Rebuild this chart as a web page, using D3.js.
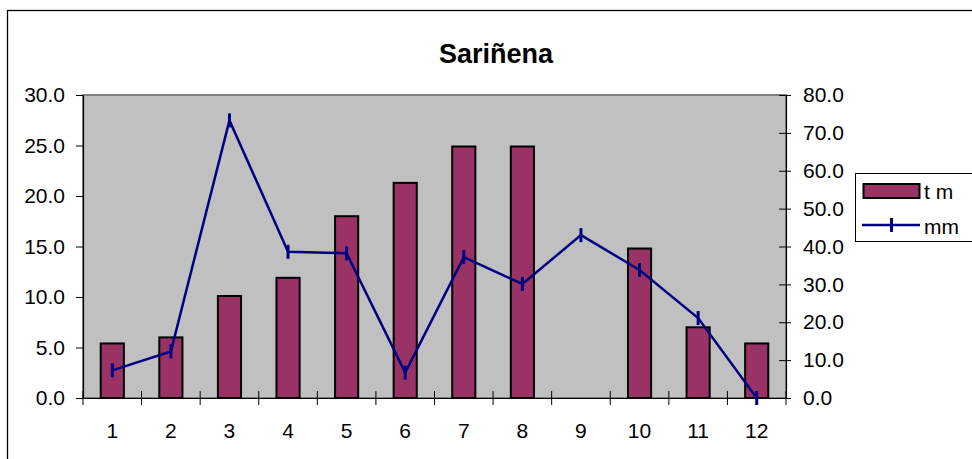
<!DOCTYPE html>
<html><head><meta charset="utf-8">
<script src="https://cdn.jsdelivr.net/npm/d3@7"></script>
<style>html,body{margin:0;padding:0;background:#fff;}svg{display:block;font-family:"Liberation Sans",Arial,sans-serif;}</style>
</head><body>
<svg id="c" width="972" height="459"></svg>
<script>
const months = ["1","2","3","4","5","6","7","8","9","10","11","12"];
const tm = [5.4, 6.0, 10.1, 11.9, 18.0, 21.3, 24.9, 24.9, null, 14.8, 7.0, 5.4];
const mm = [7.3, 12.3, 73.3, 38.6, 38.2, 6.7, 37.2, 30.1, 43.0, 33.8, 21.1, 0.0];
const leftTicks = [0, 5, 10, 15, 20, 25, 30];
const rightTicks = [0, 10, 20, 30, 40, 50, 60, 70, 80];
const title = "Sariñena";
const legendLabels = ["t m", "mm"];

const svg = d3.select("#c");
const L = 83, R = 786, T = 95, B = 398;
const barColor = "#993366", lineColor = "#000080";

// outer chart border
svg.append("rect").attr("x", 7.5).attr("y", 10.5).attr("width", 975).attr("height", 460)
  .attr("fill", "#fff").attr("stroke", "#000").attr("stroke-width", 1.3);

svg.append("text").attr("x", 496).attr("y", 63).attr("text-anchor", "middle")
  .attr("font-size", 27).attr("font-weight", "bold").text(title);

const x = d3.scaleBand().domain(months).range([L, R]).padding(0);
const yL = d3.scaleLinear().domain([0, 30]).range([B, T]);
const yR = d3.scaleLinear().domain([0, 80]).range([B, T]);

// plot area
svg.append("rect").attr("x", L).attr("y", T).attr("width", R - L).attr("height", B - T)
  .attr("fill", "#c0c0c0").attr("stroke", "#808080").attr("stroke-width", 2);

// bars
const bw = x.bandwidth() * 0.395;
svg.append("g").selectAll("rect").data(months.map((m, i) => ({m, v: tm[i]})).filter(d => d.v != null))
  .join("rect")
  .attr("x", d => x(d.m) + x.bandwidth() / 2 - bw / 2)
  .attr("y", d => yL(d.v))
  .attr("width", bw)
  .attr("height", d => yL(0) - yL(d.v))
  .attr("fill", barColor).attr("stroke", "#000").attr("stroke-width", 2);

// axes
const axL = svg.append("g").attr("transform", `translate(${L},0)`)
  .call(d3.axisLeft(yL).tickValues(leftTicks).tickSize(7).tickSizeOuter(0).tickFormat(d3.format(".1f")));
const axR = svg.append("g").attr("transform", `translate(${R},0)`)
  .call(d3.axisRight(yR).tickValues(rightTicks).tickSize(6).tickSizeOuter(0).tickFormat(d3.format(".1f")));
axR.selectAll(".tick line").attr("x1", -7).attr("x2", 5);
axR.selectAll(".tick text").attr("x", 17);
axL.selectAll(".tick text").attr("x", -18);

const xTickPos = months.map(m => x(m)).concat([R]);
const axB = svg.append("g").attr("transform", `translate(0,${B})`)
  .call(d3.axisBottom(x).tickSize(0).tickSizeOuter(0));
axB.selectAll(".tick text").attr("y", 40).attr("dy", 0);
axB.selectAll("line.xt").data(xTickPos).join("line").attr("class", "xt")
  .attr("x1", d => d).attr("x2", d => d).attr("y1", -7).attr("y2", 7)
  .attr("stroke", "#000").attr("stroke-width", 1);

[axL, axR, axB].forEach(a => {
  a.selectAll(".domain").attr("stroke", "#000").attr("stroke-width", 1.2);
  a.selectAll(".tick line").attr("stroke", "#000");
  a.selectAll(".tick text").attr("font-size", 21).attr("fill", "#000")
    .attr("font-family", '"Liberation Sans",Arial,sans-serif');
});

// line
const cx = m => x(m) + x.bandwidth() / 2;
const line = d3.line().x((d, i) => cx(months[i])).y(d => yR(d));
svg.append("path").attr("d", line(mm)).attr("fill", "none")
  .attr("stroke", lineColor).attr("stroke-width", 2.5).attr("stroke-linejoin", "miter");
svg.append("g").selectAll("line").data(mm).join("line")
  .attr("x1", (d, i) => cx(months[i])).attr("x2", (d, i) => cx(months[i]))
  .attr("y1", d => yR(d) - 7).attr("y2", d => yR(d) + 7)
  .attr("stroke", lineColor).attr("stroke-width", 3);

// legend
const lg = svg.append("g");
lg.append("rect").attr("x", 855.5).attr("y", 173.5).attr("width", 118).attr("height", 68)
  .attr("fill", "#fff").attr("stroke", "#000").attr("stroke-width", 1);
lg.append("rect").attr("x", 863.5).attr("y", 184).attr("width", 56).attr("height", 14)
  .attr("fill", barColor).attr("stroke", "#000").attr("stroke-width", 2);
lg.append("text").attr("x", 924).attr("y", 199).attr("font-size", 21).text(legendLabels[0]);
lg.append("line").attr("x1", 862).attr("x2", 920).attr("y1", 225).attr("y2", 225)
  .attr("stroke", lineColor).attr("stroke-width", 2.5);
lg.append("line").attr("x1", 891.5).attr("x2", 891.5).attr("y1", 218).attr("y2", 232)
  .attr("stroke", lineColor).attr("stroke-width", 3);
lg.append("text").attr("x", 924).attr("y", 234).attr("font-size", 21).text(legendLabels[1]);
</script>
</body></html>
